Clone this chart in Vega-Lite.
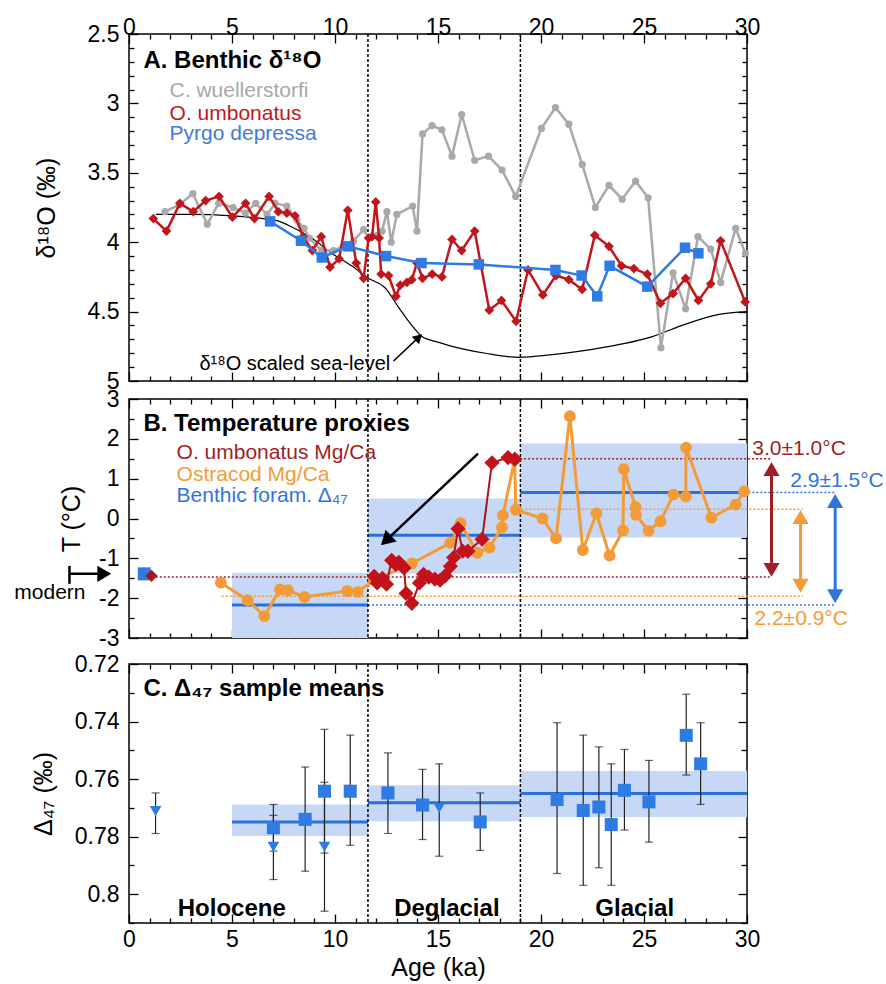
{
"$schema":"https://vega.github.io/schema/vega-lite/v6.json",
"autosize":{"type":"pad"},
"padding":{"left":13,"top":11,"right":4,"bottom":4},
"background":"white",
"config":{"font":"Liberation Sans","view":{"stroke":"black","strokeWidth":1.5},
 "axis":{"labelFont":"Liberation Sans","titleFont":"Liberation Sans","labelFontSize":23,"titleFontSize":25,"titleFontWeight":"normal","labelColor":"black","titleColor":"black","tickColor":"black","tickWidth":1.3,"domain":false,"grid":false,"labelPadding":6,"labelOverlap":false,"labelBound":false,"labelFlush":false}},
"bounds":"flush",
"spacing":18,
"resolve":{"scale":{"x":"independent","y":"independent","color":"independent"}},
"vconcat":[
{
 "width":618,"height":347,
 "resolve":{"axis":{"x":"independent","y":"independent"}},
 "layer":[
  {"data":{"values":[{"age":11.6},{"age":19}]},
   "mark":{"type":"rule","color":"black","strokeDash":[3,2],"strokeWidth":1.5},
   "encoding":{"x":{"field":"age","type":"quantitative","scale":{"domain":[0,30],"nice":false,"zero":false},"axis":null}}},
  {"data":{"values":[{"age":1.3,"d":3.80},{"age":3,"d":3.80},{"age":5,"d":3.81},{"age":6.5,"d":3.83},{"age":7.3,"d":3.85},{"age":7.9,"d":3.89},{"age":8.87,"d":3.97},{"age":9.84,"d":4.08},{"age":10.81,"d":4.17},{"age":11.63,"d":4.26},{"age":12.44,"d":4.33},{"age":13.09,"d":4.47},{"age":13.73,"d":4.6},{"age":14.22,"d":4.68},{"age":15.0,"d":4.72},{"age":15.68,"d":4.75},{"age":17.3,"d":4.8},{"age":18.92,"d":4.83},{"age":20.54,"d":4.81},{"age":22.97,"d":4.76},{"age":25.4,"d":4.68},{"age":27.02,"d":4.59},{"age":28.64,"d":4.52},{"age":30,"d":4.5}]},
   "mark":{"type":"line","color":"black","strokeWidth":1.2,"interpolate":"monotone"},
   "encoding":{"x":{"field":"age","type":"quantitative","scale":{"domain":[0,30],"nice":false,"zero":false},"axis":null},
    "y":{"field":"d","type":"quantitative","scale":{"domain":[2.5,5],"reverse":true,"nice":false,"zero":false},"axis":null}}},
  {"data":{"values":[{"age":1.75,"d":3.78},{"age":2.45,"d":3.73},{"age":3.1,"d":3.65},{"age":3.8,"d":3.87},{"age":4.35,"d":3.72},{"age":5.05,"d":3.75},{"age":5.65,"d":3.79},{"age":6.15,"d":3.72},{"age":6.7,"d":3.8},{"age":7.1,"d":3.72},{"age":7.66,"d":3.74},{"age":8.15,"d":3.84},{"age":8.5,"d":3.9},{"age":8.75,"d":3.97},{"age":9.36,"d":4.06},{"age":9.93,"d":4.06},{"age":10.4,"d":4.03},{"age":10.9,"d":3.99},{"age":11.39,"d":3.91},{"age":11.66,"d":3.97},{"age":12.05,"d":3.95},{"age":12.28,"d":3.92},{"age":12.52,"d":3.78},{"age":12.73,"d":4.0},{"age":13.0,"d":3.8},{"age":13.77,"d":3.74},{"age":13.98,"d":3.92},{"age":14.25,"d":3.22},{"age":14.71,"d":3.16},{"age":15.19,"d":3.19},{"age":15.68,"d":3.38},{"age":16.15,"d":3.08},{"age":16.78,"d":3.41},{"age":17.45,"d":3.38},{"age":18.11,"d":3.48},{"age":18.77,"d":3.67},{"age":20.02,"d":3.18},{"age":20.7,"d":3.03},{"age":21.35,"d":3.15},{"age":22.0,"d":3.44},{"age":22.64,"d":3.75},{"age":23.3,"d":3.59},{"age":23.94,"d":3.69},{"age":24.59,"d":3.56},{"age":25.2,"d":3.68},{"age":25.82,"d":4.76},{"age":26.41,"d":4.22},{"age":27.02,"d":4.48},{"age":27.62,"d":3.96},{"age":28.24,"d":4.05},{"age":28.72,"d":4.29},{"age":29.45,"d":3.9},{"age":29.92,"d":4.08}]},
   "mark":{"type":"line","color":"#a9a9a9","strokeWidth":2.5,"point":{"filled":true,"shape":"circle","size":52,"color":"#a9a9a9"}},
   "encoding":{"x":{"field":"age","type":"quantitative","scale":{"domain":[0,30],"nice":false,"zero":false},
     "axis":{"orient":"top","values":[0,1,2,3,4,5,6,7,8,9,10,11,12,13,14,15,16,17,18,19,20,21,22,23,24,25,26,27,28,29,30],"labelExpr":"datum.value % 5 === 0 ? datum.label : ''","tickSize":{"condition":{"test":"datum.value % 5 === 0","value":-9},"value":-5},"labelPadding":4,"title":null}},
    "y":{"field":"d","type":"quantitative","scale":{"domain":[2.5,5],"reverse":true,"nice":false,"zero":false},
     "axis":{"orient":"left","values":[2.5,2.6,2.7,2.8,2.9,3,3.1,3.2,3.3,3.4,3.5,3.6,3.7,3.8,3.9,4,4.1,4.2,4.3,4.4,4.5,4.6,4.7,4.8,4.9,5],"labelExpr":"abs(datum.value*2-round(datum.value*2))<0.01 ? format(datum.value,'~g') : ''","tickSize":{"condition":{"test":"abs(datum.value*2-round(datum.value*2))<0.01","value":-9},"value":-5},"labelPadding":19,"title":"δ¹⁸O (‰)","titlePadding":28}}}},
  {"data":{"values":[{"age":1.18,"d":3.83},{"age":1.82,"d":3.92},{"age":2.47,"d":3.72},{"age":3.12,"d":3.78},{"age":3.72,"d":3.70},{"age":4.37,"d":3.67},{"age":5.02,"d":3.82},{"age":5.66,"d":3.72},{"age":6.09,"d":3.83},{"age":6.8,"d":3.67},{"age":7.25,"d":3.78},{"age":7.66,"d":3.79},{"age":8.06,"d":3.81},{"age":8.45,"d":3.96},{"age":8.9,"d":4.06},{"age":9.33,"d":3.96},{"age":9.76,"d":4.18},{"age":10.2,"d":4.12},{"age":10.62,"d":3.77},{"age":11.03,"d":4.15},{"age":11.39,"d":4.26},{"age":11.63,"d":3.97},{"age":11.8,"d":3.96},{"age":11.98,"d":3.71},{"age":12.14,"d":3.97},{"age":12.24,"d":4.23},{"age":12.6,"d":4.24},{"age":12.96,"d":4.39},{"age":13.17,"d":4.31},{"age":13.49,"d":4.29},{"age":13.73,"d":4.27},{"age":13.98,"d":4.15},{"age":14.25,"d":4.26},{"age":14.72,"d":4.23},{"age":15.19,"d":4.25},{"age":15.68,"d":3.98},{"age":16.15,"d":4.06},{"age":16.78,"d":3.92},{"age":17.49,"d":4.49},{"age":18.08,"d":4.42},{"age":18.79,"d":4.57},{"age":19.37,"d":4.20},{"age":20.09,"d":4.38},{"age":20.73,"d":4.24},{"age":21.35,"d":4.27},{"age":22.0,"d":4.34},{"age":22.61,"d":3.95},{"age":23.3,"d":4.03},{"age":23.91,"d":4.17},{"age":24.51,"d":4.19},{"age":25.16,"d":4.23},{"age":25.8,"d":4.44},{"age":26.41,"d":4.37},{"age":27.02,"d":4.26},{"age":27.64,"d":4.42},{"age":28.24,"d":4.30},{"age":28.72,"d":3.99},{"age":29.91,"d":4.43}]},
   "mark":{"type":"line","color":"#c0161c","strokeWidth":2.5,"point":{"filled":true,"shape":"diamond","size":95,"color":"#c0161c"}},
   "encoding":{"x":{"field":"age","type":"quantitative","scale":{"domain":[0,30],"nice":false,"zero":false},"axis":null},
    "y":{"field":"d","type":"quantitative","scale":{"domain":[2.5,5],"reverse":true,"nice":false,"zero":false},"axis":null}}},
  {"data":{"values":[{"age":6.85,"d":3.85},{"age":8.35,"d":3.99},{"age":9.36,"d":4.11},{"age":10.63,"d":4.03},{"age":12.48,"d":4.10},{"age":14.2,"d":4.15},{"age":16.98,"d":4.16},{"age":20.7,"d":4.20},{"age":21.97,"d":4.24},{"age":22.73,"d":4.39},{"age":23.33,"d":4.17},{"age":25.16,"d":4.32},{"age":26.99,"d":4.04},{"age":27.64,"d":4.08}]},
   "mark":{"type":"line","color":"#2e7be3","strokeWidth":2.5,"point":{"filled":true,"shape":"square","size":110,"color":"#2e7be3"}},
   "encoding":{"x":{"field":"age","type":"quantitative","scale":{"domain":[0,30],"nice":false,"zero":false},
     "axis":{"orient":"bottom","values":[0,1,2,3,4,5,6,7,8,9,10,11,12,13,14,15,16,17,18,19,20,21,22,23,24,25,26,27,28,29,30],"labels":false,"tickSize":{"condition":{"test":"datum.value % 5 === 0","value":-9},"value":-5},"title":null}},
    "y":{"field":"d","type":"quantitative","scale":{"domain":[2.5,5],"reverse":true,"nice":false,"zero":false},
     "axis":{"orient":"right","values":[2.5,2.6,2.7,2.8,2.9,3,3.1,3.2,3.3,3.4,3.5,3.6,3.7,3.8,3.9,4,4.1,4.2,4.3,4.4,4.5,4.6,4.7,4.8,4.9,5],"labels":false,"tickSize":{"condition":{"test":"abs(datum.value*2-round(datum.value*2))<0.01","value":-9},"value":-5},"title":null}}}},
  {"data":{"values":[{"age":12.84,"d":4.856,"age2":14.01,"d2":4.693}]},
   "mark":{"type":"rule","color":"black","strokeWidth":1.5},
   "encoding":{"x":{"field":"age","type":"quantitative","scale":{"domain":[0,30],"nice":false,"zero":false},"axis":null},"x2":{"field":"age2"},
    "y":{"field":"d","type":"quantitative","scale":{"domain":[2.5,5],"reverse":true,"nice":false,"zero":false},"axis":null},"y2":{"field":"d2"}}},
  {"data":{"values":[{"age":14.01,"d":4.693}]},
   "mark":{"type":"point","shape":"triangle","filled":true,"color":"black","size":110,"angle":46.7,"opacity":1},
   "encoding":{"x":{"field":"age","type":"quantitative","scale":{"domain":[0,30],"nice":false,"zero":false},"axis":null},
    "y":{"field":"d","type":"quantitative","scale":{"domain":[2.5,5],"reverse":true,"nice":false,"zero":false},"axis":null}}},
  {"data":{"values":[{"age":8.05,"d":4.878,"t":"δ¹⁸O scaled sea-level"}]},
   "mark":{"type":"text","fontSize":20,"align":"center","baseline":"middle","color":"black"},
   "encoding":{"x":{"field":"age","type":"quantitative","scale":{"domain":[0,30],"nice":false,"zero":false},"axis":null},
    "y":{"field":"d","type":"quantitative","scale":{"domain":[2.5,5],"reverse":true,"nice":false,"zero":false},"axis":null},"text":{"field":"t"}}},
  {"data":{"values":[{"age":0.7,"d":2.695,"t":"A. Benthic δ¹⁸O"}]},
   "mark":{"type":"text","fontSize":24,"fontWeight":"bold","align":"left","baseline":"middle","color":"black"},
   "encoding":{"x":{"field":"age","type":"quantitative","scale":{"domain":[0,30],"nice":false,"zero":false},"axis":null},
    "y":{"field":"d","type":"quantitative","scale":{"domain":[2.5,5],"reverse":true,"nice":false,"zero":false},"axis":null},"text":{"field":"t"}}},
  {"data":{"values":[{"age":1.97,"d":2.911,"t":"C. wuellerstorfi","s":"g"},{"age":1.97,"d":3.076,"t":"O. umbonatus","s":"r"},{"age":1.97,"d":3.22,"t":"Pyrgo depressa","s":"b"}]},
   "mark":{"type":"text","fontSize":21,"align":"left","baseline":"middle"},
   "encoding":{"x":{"field":"age","type":"quantitative","scale":{"domain":[0,30],"nice":false,"zero":false},"axis":null},
    "y":{"field":"d","type":"quantitative","scale":{"domain":[2.5,5],"reverse":true,"nice":false,"zero":false},"axis":null},"text":{"field":"t"},
    "color":{"field":"s","type":"nominal","scale":{"domain":["g","r","b"],"range":["#a8a8a8","#c0161c","#3f7bd4"]},"legend":null}}}
 ]
},
{
 "bounds":"flush",
 "spacing":26,
 "resolve":{"scale":{"x":"independent","y":"independent","color":"independent"}},
 "vconcat":[
 {
  "width":618,"height":239,
  "resolve":{"axis":{"x":"independent","y":"independent"}},
  "layer":[
   {"data":{"values":[{"age":5,"age2":11.6,"lo":-3,"hi":-1.36},{"age":11.6,"age2":19,"lo":-1.38,"hi":0.5},{"age":19,"age2":30,"lo":-0.48,"hi":1.88}]},
    "mark":{"type":"rect","color":"#c7d8f6"},
    "encoding":{"x":{"field":"age","type":"quantitative","scale":{"domain":[0,30],"nice":false,"zero":false},"axis":null},"x2":{"field":"age2"},
     "y":{"field":"lo","type":"quantitative","scale":{"domain":[-3,3],"nice":false,"zero":false},"axis":null},"y2":{"field":"hi"}}},
   {"data":{"values":[{"age":5,"age2":11.6,"m":-2.17},{"age":11.6,"age2":19,"m":-0.42},{"age":19,"age2":30,"m":0.65}]},
    "mark":{"type":"rule","color":"#2b6fd9","strokeWidth":3},
    "encoding":{"x":{"field":"age","type":"quantitative","scale":{"domain":[0,30],"nice":false,"zero":false},"axis":null},"x2":{"field":"age2"},
     "y":{"field":"m","type":"quantitative","scale":{"domain":[-3,3],"nice":false,"zero":false},"axis":null}}},
   {"data":{"values":[{"age":1.3,"age2":31.2,"v":-1.47,"s":"m"},{"age":18.6,"age2":31.2,"v":1.5,"s":"m"},{"age":19.05,"age2":32.7,"v":0.23,"s":"o"},{"age":4.5,"age2":32.7,"v":-1.95,"s":"o"},{"age":19,"age2":34.3,"v":0.65,"s":"b"},{"age":11.6,"age2":34.3,"v":-2.17,"s":"b"}]},
    "mark":{"type":"rule","strokeWidth":1.5,"strokeDash":[2,2]},
    "encoding":{"x":{"field":"age","type":"quantitative","scale":{"domain":[0,30],"nice":false,"zero":false},"axis":null},"x2":{"field":"age2"},
     "y":{"field":"v","type":"quantitative","scale":{"domain":[-3,3],"nice":false,"zero":false},"axis":null},
     "color":{"field":"s","type":"nominal","scale":{"domain":["m","o","b"],"range":["#9e1f24","#f39b36","#2f74db"]},"legend":null}}},
   {"data":{"values":[{"age":11.6},{"age":19}]},
    "mark":{"type":"rule","color":"black","strokeDash":[3,2],"strokeWidth":1.5},
    "encoding":{"x":{"field":"age","type":"quantitative","scale":{"domain":[0,30],"nice":false,"zero":false},"axis":null}}},
   {"data":{"values":[{"age":4.46,"t":-1.61},{"age":5.76,"t":-2.05},{"age":6.57,"t":-2.45},{"age":7.33,"t":-1.78},{"age":7.71,"t":-1.8},{"age":8.52,"t":-1.97},{"age":10.6,"t":-1.82},{"age":11.1,"t":-1.84},{"age":11.9,"t":-1.55},{"age":13.73,"t":-1.13},{"age":15.6,"t":-0.61},{"age":16.1,"t":-0.12},{"age":16.9,"t":-0.86},{"age":17.5,"t":-0.73},{"age":18.1,"t":-0.22},{"age":18.15,"t":0.08},{"age":18.72,"t":1.48},{"age":18.78,"t":0.22},{"age":20.07,"t":0.0},{"age":20.73,"t":-0.5},{"age":21.4,"t":2.57},{"age":22.03,"t":-0.79},{"age":22.69,"t":0.13},{"age":23.33,"t":-0.93},{"age":23.98,"t":-0.3},{"age":24.02,"t":1.24},{"age":24.59,"t":0.29},{"age":24.61,"t":0.09},{"age":25.22,"t":-0.31},{"age":25.8,"t":-0.07},{"age":26.43,"t":0.6},{"age":27.03,"t":0.55},{"age":27.04,"t":1.78},{"age":28.27,"t":0.02},{"age":29.45,"t":0.35},{"age":29.86,"t":0.68}]},
    "mark":{"type":"line","color":"#f39b36","strokeWidth":3,"point":{"filled":true,"shape":"circle","size":140,"color":"#f39b36"}},
    "encoding":{"x":{"field":"age","type":"quantitative","scale":{"domain":[0,30],"nice":false,"zero":false},
      "axis":{"orient":"bottom","values":[0,1,2,3,4,5,6,7,8,9,10,11,12,13,14,15,16,17,18,19,20,21,22,23,24,25,26,27,28,29,30],"labels":false,"tickSize":{"condition":{"test":"datum.value % 5 === 0","value":-9},"value":-5},"title":null}},
     "y":{"field":"t","type":"quantitative","scale":{"domain":[-3,3],"nice":false,"zero":false},
      "axis":{"orient":"left","values":[-3,-2.5,-2,-1.5,-1,-0.5,0,0.5,1,1.5,2,2.5,3],"labelExpr":"abs(datum.value-round(datum.value))<0.01 ? (datum.value + '') : ''","tickSize":{"condition":{"test":"abs(datum.value-round(datum.value))<0.01","value":-9},"value":-5},"labelPadding":19,"title":"T (°C)","titlePadding":14}}}},
   {"data":{"values":[{"age":11.9,"t":-1.45},{"age":12.05,"t":-1.62},{"age":12.3,"t":-1.5},{"age":12.5,"t":-1.65},{"age":12.75,"t":-1.05},{"age":12.95,"t":-1.15},{"age":13.1,"t":-1.1},{"age":13.35,"t":-1.24},{"age":13.45,"t":-1.88},{"age":13.73,"t":-2.13},{"age":14.1,"t":-1.62},{"age":14.3,"t":-1.4},{"age":14.55,"t":-1.47},{"age":14.85,"t":-1.52},{"age":15.1,"t":-1.55},{"age":15.35,"t":-1.44},{"age":15.6,"t":-1.2},{"age":15.76,"t":-0.98},{"age":15.97,"t":-0.26},{"age":16.2,"t":-0.82},{"age":16.45,"t":-0.82},{"age":17.14,"t":-0.52},{"age":17.62,"t":1.4},{"age":18.4,"t":1.53},{"age":18.73,"t":1.49}]},
    "mark":{"type":"line","color":"#a3171d","strokeWidth":2,"point":{"filled":true,"shape":"diamond","size":230,"color":"#c4121a"}},
    "encoding":{"x":{"field":"age","type":"quantitative","scale":{"domain":[0,30],"nice":false,"zero":false},
      "axis":{"orient":"top","values":[0,1,2,3,4,5,6,7,8,9,10,11,12,13,14,15,16,17,18,19,20,21,22,23,24,25,26,27,28,29,30],"labels":false,"tickSize":{"condition":{"test":"datum.value % 5 === 0","value":-9},"value":-5},"title":null}},
     "y":{"field":"t","type":"quantitative","scale":{"domain":[-3,3],"nice":false,"zero":false},
      "axis":{"orient":"right","values":[-3,-2.5,-2,-1.5,-1,-0.5,0,0.5,1,1.5,2,2.5,3],"labels":false,"tickSize":{"condition":{"test":"abs(datum.value-round(datum.value))<0.01","value":-9},"value":-6},"title":null}}}},
   {"data":{"values":[{"age":0.74,"t":-1.39}]},
    "mark":{"type":"point","shape":"square","filled":true,"size":170,"color":"#2e7be3","opacity":1},
    "encoding":{"x":{"field":"age","type":"quantitative","scale":{"domain":[0,30],"nice":false,"zero":false},"axis":null},
     "y":{"field":"t","type":"quantitative","scale":{"domain":[-3,3],"nice":false,"zero":false},"axis":null}}},
   {"data":{"values":[{"age":1.09,"t":-1.44}]},
    "mark":{"type":"point","shape":"diamond","filled":true,"size":150,"color":"#a3171d","opacity":1},
    "encoding":{"x":{"field":"age","type":"quantitative","scale":{"domain":[0,30],"nice":false,"zero":false},"axis":null},
     "y":{"field":"t","type":"quantitative","scale":{"domain":[-3,3],"nice":false,"zero":false},"axis":null}}},
   {"data":{"values":[{"age":16.94,"t":1.63,"age2":12.56,"t2":-0.51},{"age":-2.89,"t":-1.39,"age2":-1.3,"t2":-1.39},{"age":-2.89,"t":-1.19,"age2":-2.89,"t2":-1.64}]},
    "mark":{"type":"rule","color":"black","strokeWidth":2.5},
    "encoding":{"x":{"field":"age","type":"quantitative","scale":{"domain":[0,30],"nice":false,"zero":false},"axis":null},"x2":{"field":"age2"},
     "y":{"field":"t","type":"quantitative","scale":{"domain":[-3,3],"nice":false,"zero":false},"axis":null},"y2":{"field":"t2"}}},
   {"data":{"values":[{"age":12.56,"t":-0.51}]},
    "mark":{"type":"point","shape":"triangle","filled":true,"color":"black","size":260,"angle":226.6,"opacity":1},
    "encoding":{"x":{"field":"age","type":"quantitative","scale":{"domain":[0,30],"nice":false,"zero":false},"axis":null},
     "y":{"field":"t","type":"quantitative","scale":{"domain":[-3,3],"nice":false,"zero":false},"axis":null}}},
   {"data":{"values":[{"age":-1.2,"t":-1.39}]},
    "mark":{"type":"point","shape":"triangle-right","filled":true,"color":"black","size":260,"opacity":1},
    "encoding":{"x":{"field":"age","type":"quantitative","scale":{"domain":[0,30],"nice":false,"zero":false},"axis":null},
     "y":{"field":"t","type":"quantitative","scale":{"domain":[-3,3],"nice":false,"zero":false},"axis":null}}},
   {"data":{"values":[{"age":31.19,"top":1.24,"bot":-1.29,"s":"m"},{"age":32.6,"top":0.04,"bot":-1.69,"s":"o"},{"age":34.28,"top":0.44,"bot":-1.95,"s":"b"}]},
    "layer":[
     {"mark":{"type":"rule","strokeWidth":3},
      "encoding":{"x":{"field":"age","type":"quantitative","scale":{"domain":[0,30],"nice":false,"zero":false},"axis":null},
       "y":{"field":"top","type":"quantitative","scale":{"domain":[-3,3],"nice":false,"zero":false},"axis":null},"y2":{"field":"bot"},
       "color":{"field":"s","type":"nominal","scale":{"domain":["m","o","b"],"range":["#9e1f24","#f39b36","#2f74db"]},"legend":null}}},
     {"mark":{"type":"point","shape":"triangle-up","filled":true,"size":260,"opacity":1},
      "encoding":{"x":{"field":"age","type":"quantitative","scale":{"domain":[0,30],"nice":false,"zero":false},"axis":null},
       "y":{"field":"top","type":"quantitative","scale":{"domain":[-3,3],"nice":false,"zero":false},"axis":null},
       "color":{"field":"s","type":"nominal","scale":{"domain":["m","o","b"],"range":["#9e1f24","#f39b36","#2f74db"]},"legend":null}}},
     {"mark":{"type":"point","shape":"triangle-down","filled":true,"size":260,"opacity":1},
      "encoding":{"x":{"field":"age","type":"quantitative","scale":{"domain":[0,30],"nice":false,"zero":false},"axis":null},
       "y":{"field":"bot","type":"quantitative","scale":{"domain":[-3,3],"nice":false,"zero":false},"axis":null},
       "color":{"field":"s","type":"nominal","scale":{"domain":["m","o","b"],"range":["#9e1f24","#f39b36","#2f74db"]},"legend":null}}}
    ]},
   {"data":{"values":[{"age":30.26,"t":1.745,"l":"3.0±1.0°C","s":"m"},{"age":32.1,"t":0.94,"l":"2.9±1.5°C","s":"b"},{"age":30.36,"t":-2.52,"l":"2.2±0.9°C","s":"o"},{"age":2.31,"t":1.64,"l":"O. umbonatus Mg/Ca","s":"m"},{"age":2.31,"t":1.09,"l":"Ostracod Mg/Ca","s":"o"},{"age":2.31,"t":0.56,"l":"Benthic foram. Δ₄₇","s":"b"}]},
    "mark":{"type":"text","fontSize":21,"align":"left","baseline":"middle"},
    "encoding":{"x":{"field":"age","type":"quantitative","scale":{"domain":[0,30],"nice":false,"zero":false},"axis":null},
     "y":{"field":"t","type":"quantitative","scale":{"domain":[-3,3],"nice":false,"zero":false},"axis":null},"text":{"field":"l"},
     "color":{"field":"s","type":"nominal","scale":{"domain":["m","o","b"],"range":["#a3262b","#f5a24a","#3e78d0"]},"legend":null}}},
   {"data":{"values":[{"age":0.7,"t":2.37,"l":"B. Temperature proxies"}]},
    "mark":{"type":"text","fontSize":24,"fontWeight":"bold","align":"left","baseline":"middle","color":"black"},
    "encoding":{"x":{"field":"age","type":"quantitative","scale":{"domain":[0,30],"nice":false,"zero":false},"axis":null},
     "y":{"field":"t","type":"quantitative","scale":{"domain":[-3,3],"nice":false,"zero":false},"axis":null},"text":{"field":"l"}}},
   {"data":{"values":[{"age":-3.84,"t":-1.86,"l":"modern"}]},
    "mark":{"type":"text","fontSize":21,"align":"center","baseline":"middle","color":"black"},
    "encoding":{"x":{"field":"age","type":"quantitative","scale":{"domain":[0,30],"nice":false,"zero":false},"axis":null},
     "y":{"field":"t","type":"quantitative","scale":{"domain":[-3,3],"nice":false,"zero":false},"axis":null},"text":{"field":"l"}}}
  ]
 },
 {
  "width":618,"height":259,
  "resolve":{"axis":{"x":"independent","y":"independent"}},
  "layer":[
   {"data":{"values":[{"age":5,"age2":11.6,"lo":0.7688,"hi":0.7798},{"age":11.6,"age2":19,"lo":0.7621,"hi":0.7746},{"age":19,"age2":30,"lo":0.7572,"hi":0.7732}]},
    "mark":{"type":"rect","color":"#c7d8f6"},
    "encoding":{"x":{"field":"age","type":"quantitative","scale":{"domain":[0,30],"nice":false,"zero":false},"axis":null},"x2":{"field":"age2"},
     "y":{"field":"lo","type":"quantitative","scale":{"domain":[0.72,0.81],"reverse":true,"nice":false,"zero":false},"axis":null},"y2":{"field":"hi"}}},
   {"data":{"values":[{"age":5,"age2":11.6,"m":0.7749},{"age":11.6,"age2":19,"m":0.7682},{"age":19,"age2":30,"m":0.765}]},
    "mark":{"type":"rule","color":"#2b6fd9","strokeWidth":3},
    "encoding":{"x":{"field":"age","type":"quantitative","scale":{"domain":[0,30],"nice":false,"zero":false},"axis":null},"x2":{"field":"age2"},
     "y":{"field":"m","type":"quantitative","scale":{"domain":[0.72,0.81],"reverse":true,"nice":false,"zero":false},"axis":null}}},
   {"data":{"values":[{"age":11.6},{"age":19}]},
    "mark":{"type":"rule","color":"black","strokeDash":[3,2],"strokeWidth":1.5},
    "encoding":{"x":{"field":"age","type":"quantitative","scale":{"domain":[0,30],"nice":false,"zero":false},"axis":null}}},
   {"data":{"values":[{"age":1.29,"lo":0.7648,"hi":0.7789},{"age":7.01,"lo":0.7688,"hi":0.785},{"age":7.01,"lo":0.7726,"hi":0.7949},{"age":8.55,"lo":0.7558,"hi":0.792},{"age":9.49,"lo":0.7427,"hi":0.7857},{"age":9.49,"lo":0.7611,"hi":0.8059},{"age":10.74,"lo":0.7447,"hi":0.783},{"age":12.57,"lo":0.7509,"hi":0.7789},{"age":14.25,"lo":0.7566,"hi":0.781},{"age":15.06,"lo":0.7547,"hi":0.7868},{"age":17.05,"lo":0.7648,"hi":0.7848},{"age":20.78,"lo":0.7404,"hi":0.7928},{"age":22.05,"lo":0.7447,"hi":0.7969},{"age":22.81,"lo":0.7488,"hi":0.7908},{"age":23.41,"lo":0.7547,"hi":0.7969},{"age":24.05,"lo":0.7497,"hi":0.7777},{"age":25.24,"lo":0.7535,"hi":0.7819},{"age":27.05,"lo":0.7305,"hi":0.7586},{"age":27.75,"lo":0.7404,"hi":0.7688}]},
    "mark":{"type":"errorbar","color":"#222222","thickness":1.2,"ticks":{"size":8,"color":"#222222","thickness":1.2}},
    "encoding":{"x":{"field":"age","type":"quantitative","scale":{"domain":[0,30],"nice":false,"zero":false},"axis":null},
     "y":{"field":"lo","type":"quantitative","scale":{"domain":[0.72,0.81],"reverse":true,"nice":false,"zero":false},"axis":null},"y2":{"field":"hi"}}},
   {"data":{"values":[{"age":7.01,"d":0.7769},{"age":8.55,"d":0.774},{"age":9.49,"d":0.7642},{"age":10.74,"d":0.7642},{"age":12.57,"d":0.7648},{"age":14.25,"d":0.769},{"age":17.05,"d":0.7749},{"age":20.78,"d":0.7671},{"age":22.05,"d":0.7709},{"age":22.81,"d":0.7697},{"age":23.41,"d":0.7758},{"age":24.05,"d":0.7639},{"age":25.24,"d":0.7679},{"age":27.05,"d":0.7448},{"age":27.75,"d":0.7547}]},
    "mark":{"type":"point","shape":"square","filled":true,"size":170,"color":"#2e7be3","opacity":1},
    "encoding":{"x":{"field":"age","type":"quantitative","scale":{"domain":[0,30],"nice":false,"zero":false},
      "axis":{"orient":"bottom","values":[0,1,2,3,4,5,6,7,8,9,10,11,12,13,14,15,16,17,18,19,20,21,22,23,24,25,26,27,28,29,30],"labelExpr":"datum.value % 5 === 0 ? datum.label : ''","tickSize":{"condition":{"test":"datum.value % 5 === 0","value":-9},"value":-5},"labelPadding":14,"title":"Age (ka)","titlePadding":0}},
     "y":{"field":"d","type":"quantitative","scale":{"domain":[0.72,0.81],"reverse":true,"nice":false,"zero":false},
      "axis":{"orient":"left","values":[0.72,0.73,0.74,0.75,0.76,0.77,0.78,0.79,0.8,0.81],"labelExpr":"abs(datum.value*50-round(datum.value*50))<0.01 ? format(datum.value,'.2~f') : ''","tickSize":{"condition":{"test":"abs(datum.value*50-round(datum.value*50))<0.01","value":-9},"value":-5},"labelPadding":19,"title":"Δ₄₇ (‰)","titlePadding":18}}}},
   {"data":{"values":[{"age":1.29,"d":0.7711},{"age":7.01,"d":0.7835},{"age":9.49,"d":0.7835},{"age":15.06,"d":0.77}]},
    "mark":{"type":"point","shape":"triangle-down","filled":true,"size":135,"color":"#2e7be3","opacity":1},
    "encoding":{"x":{"field":"age","type":"quantitative","scale":{"domain":[0,30],"nice":false,"zero":false},
      "axis":{"orient":"top","values":[0,1,2,3,4,5,6,7,8,9,10,11,12,13,14,15,16,17,18,19,20,21,22,23,24,25,26,27,28,29,30],"labels":false,"tickSize":{"condition":{"test":"datum.value % 5 === 0","value":-9},"value":-5},"title":null}},
     "y":{"field":"d","type":"quantitative","scale":{"domain":[0.72,0.81],"reverse":true,"nice":false,"zero":false},
      "axis":{"orient":"right","values":[0.72,0.73,0.74,0.75,0.76,0.77,0.78,0.79,0.8,0.81],"labels":false,"tickSize":{"condition":{"test":"abs(datum.value*50-round(datum.value*50))<0.01","value":-9},"value":-6},"title":null}}}},
   {"data":{"values":[{"age":0.7,"d":0.7287,"l":"C. Δ₄₇ sample means"}]},
    "mark":{"type":"text","fontSize":24,"fontWeight":"bold","align":"left","baseline":"middle","color":"black"},
    "encoding":{"x":{"field":"age","type":"quantitative","scale":{"domain":[0,30],"nice":false,"zero":false},"axis":null},
     "y":{"field":"d","type":"quantitative","scale":{"domain":[0.72,0.81],"reverse":true,"nice":false,"zero":false},"axis":null},"text":{"field":"l"}}},
   {"data":{"values":[{"age":4.99,"d":0.8052,"l":"Holocene"},{"age":15.43,"d":0.8052,"l":"Deglacial"},{"age":24.55,"d":0.8052,"l":"Glacial"}]},
    "mark":{"type":"text","fontSize":24,"fontWeight":"bold","align":"center","baseline":"middle","color":"black"},
    "encoding":{"x":{"field":"age","type":"quantitative","scale":{"domain":[0,30],"nice":false,"zero":false},"axis":null},
     "y":{"field":"d","type":"quantitative","scale":{"domain":[0.72,0.81],"reverse":true,"nice":false,"zero":false},"axis":null},"text":{"field":"l"}}}
  ]
 }
 ]
}
]
}
